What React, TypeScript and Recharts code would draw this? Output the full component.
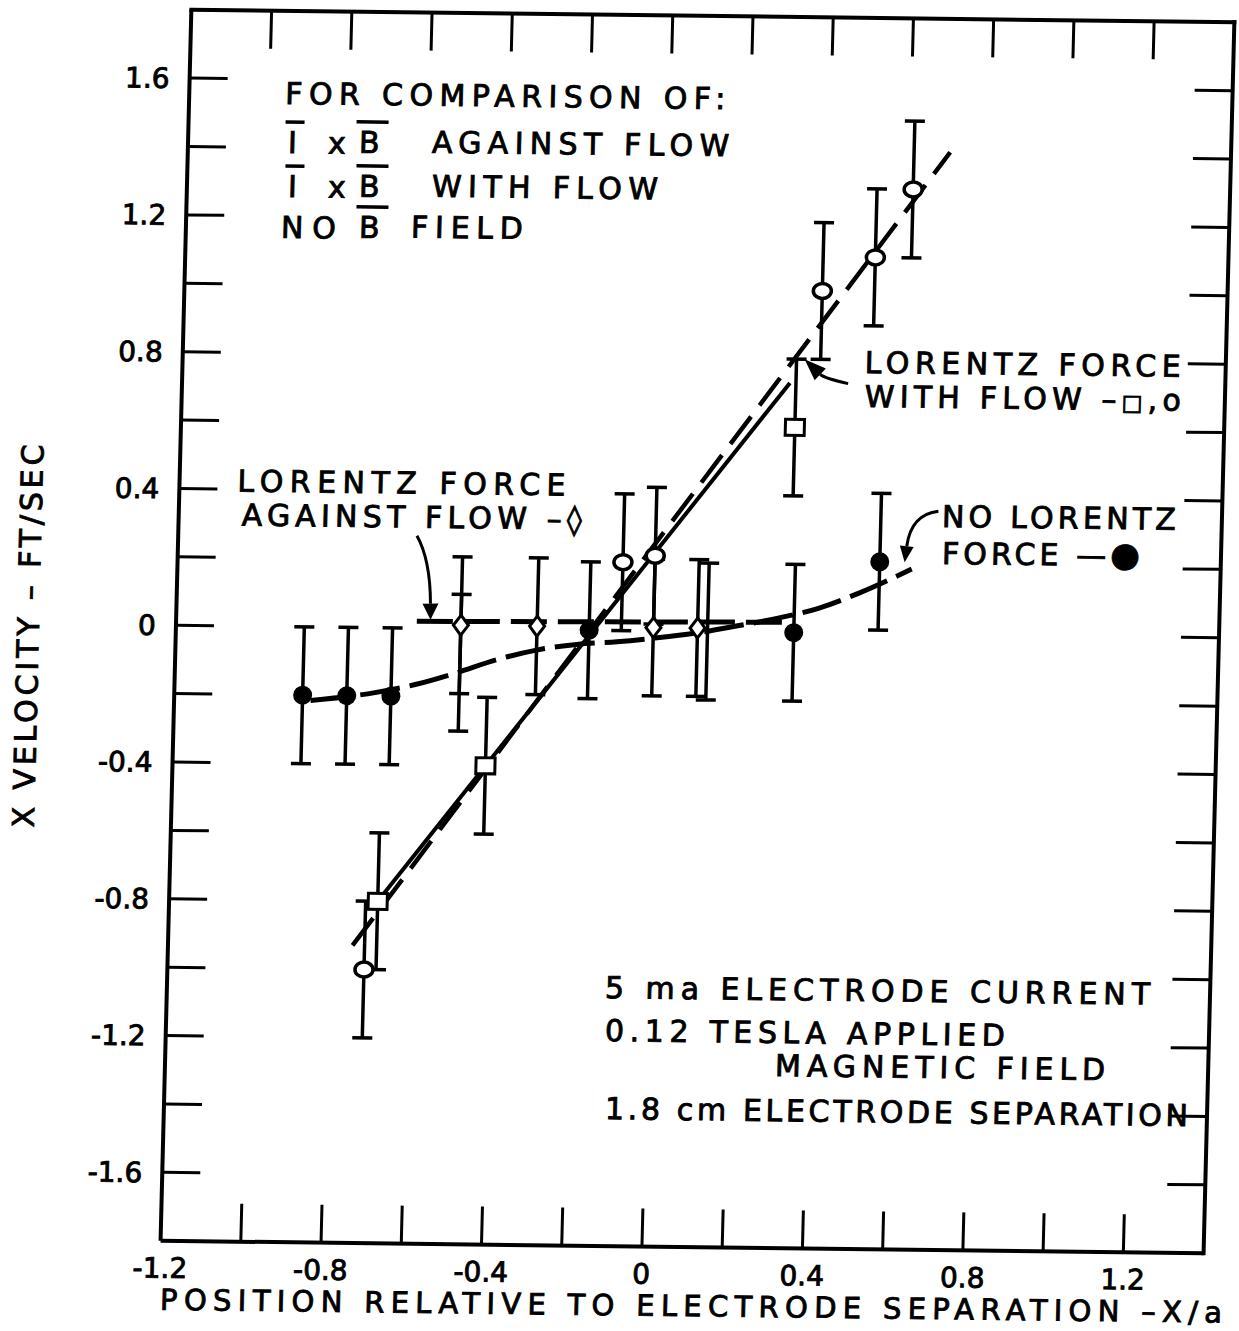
import React from "react";
import {
  ComposedChart,
  Line,
  Scatter,
  ErrorBar,
  XAxis,
  YAxis,
  Customized,
} from "recharts";

// svg size and plot frame (px)
const W = 1260;
const H = 1331;
const LEFT = 176;
const RIGHT = 1219;
const TOP = 16;
const BOTTOM = 1247;
const TICK = 38;

const X_DOMAIN: [number, number] = [-1.2, 1.4];
const Y_DOMAIN: [number, number] = [-1.8, 1.8];

const xTicks = [-1.2, -1.0, -0.8, -0.6, -0.4, -0.2, 0, 0.2, 0.4, 0.6, 0.8, 1.0, 1.2];
const xTickLabels = ["-1.2", "-0.8", "-0.4", "0", "0.4", "0.8", "1.2"];
const yTicks = [
  -1.6, -1.4, -1.2, -1.0, -0.8, -0.6, -0.4, -0.2, 0, 0.2, 0.4, 0.6, 0.8, 1.0, 1.2, 1.4, 1.6,
];
const yTickLabels = ["-1.6", "-1.2", "-0.8", "-0.4", "0", "0.4", "0.8", "1.2", "1.6"];

// no B field (filled circles)
const noFieldX = [-0.88, -0.77, -0.66, -0.17, 0.34, 0.55];
const noFieldY = [-0.2, -0.2, -0.2, 0.0, 0.0, 0.21];
// I x B with flow (open circles and squares)
const withFlowCircleX = [-0.71, -0.09, -0.01, 0.39, 0.52, 0.61];
const withFlowCircleY = [-1.0, 0.2, 0.22, 1.0, 1.1, 1.3];
const withFlowSquareX = [-0.68, -0.42, 0.33];
const withFlowSquareY = [-0.8, -0.4, 0.6];
// I x B against flow (diamonds)
const againstX = [-0.49, -0.3, -0.01, 0.1];
const againstY = [0.01, 0.01, 0.01, 0.01];
// error bars whose symbols sit under other marks
const hiddenX = [-0.49, 0.125];
const hiddenY = [-0.1, 0.0];
const ERR = 0.2;

// faired curves
const circleFitX = [-0.74, 0.7];
const circleFitY = [-0.93, 1.41];
const squareFitX = [-0.68, 0.315];
const squareFitY = [-0.8, 0.73];
const againstFitX = [-0.6, 0.31];
const againstFitY = [0.02, 0.03];
const noFieldFitX = [-0.86, -0.7, -0.6, -0.5, -0.4, -0.3, -0.2, -0.1, 0, 0.1, 0.2, 0.3, 0.4, 0.5, 0.63];
const noFieldFitY = [
  -0.215, -0.19, -0.165, -0.13, -0.09, -0.06, -0.042, -0.033, -0.02, -0.004, 0.018, 0.042, 0.072,
  0.118, 0.19,
];

const points = (xs: number[], ys: number[]) =>
  xs.map((x, i) => ({ x, y: ys[i], err: ERR }));

const sx = (x: number) =>
  LEFT + ((x - X_DOMAIN[0]) / (X_DOMAIN[1] - X_DOMAIN[0])) * (RIGHT - LEFT);
const sy = (y: number) =>
  TOP + ((Y_DOMAIN[1] - y) / (Y_DOMAIN[1] - Y_DOMAIN[0])) * (BOTTOM - TOP);

const fmt = (v: number) => (Math.abs(v) < 1e-9 ? "0" : v.toFixed(1));

const FONT = '"DejaVu Sans", sans-serif';
const letter = {
  fontFamily: FONT,
  fontSize: 30,
  fill: "#000",
  stroke: "#000",
  strokeWidth: 0.9,
};

const BottomTick = ({ x, y, payload }: any) => {
  const label = fmt(payload.value);
  return (
    <g>
      {payload.value > X_DOMAIN[0] + 1e-9 && (
        <line x1={x} y1={y} x2={x} y2={y - TICK} stroke="#000" strokeWidth={3} />
      )}
      {xTickLabels.includes(label) && (
        <text x={x} y={y + 37} textAnchor="middle" style={{ ...letter, fontSize: 28 }}>
          {label}
        </text>
      )}
    </g>
  );
};

const LeftTick = ({ x, y, payload }: any) => {
  const label = fmt(payload.value);
  return (
    <g>
      <line x1={x} y1={y} x2={x + TICK} y2={y} stroke="#000" strokeWidth={3} />
      {yTickLabels.includes(label) && (
        <text x={x - 20} y={y + 10} textAnchor="end" style={{ ...letter, fontSize: 28 }}>
          {label}
        </text>
      )}
    </g>
  );
};

// top and right edges of the frame with their inward ticks
const FrameEdges = () => (
  <g stroke="#000">
    <line x1={LEFT} y1={TOP} x2={RIGHT} y2={TOP} strokeWidth={4} strokeLinecap="square" />
    <line x1={RIGHT} y1={TOP} x2={RIGHT} y2={BOTTOM} strokeWidth={4} strokeLinecap="square" />
    {xTicks
      .filter((v) => v > X_DOMAIN[0] + 1e-9)
      .map((v) => (
        <line key={`t${v}`} x1={sx(v)} x2={sx(v)} y1={TOP} y2={TOP + TICK} strokeWidth={3} />
      ))}
    {yTicks.map((v) => (
      <line key={`r${v}`} x1={RIGHT - TICK} x2={RIGHT} y1={sy(v)} y2={sy(v)} strokeWidth={3} />
    ))}
  </g>
);

const FilledDot = ({ cx, cy }: any) => <circle cx={cx} cy={cy} r={9.5} fill="#000" />;
const OpenDot = ({ cx, cy }: any) => (
  <ellipse cx={cx} cy={cy} rx={9} ry={7.5} fill="#fff" stroke="#000" strokeWidth={3.5} />
);
const OpenSquare = ({ cx, cy }: any) => (
  <rect x={cx - 9.5} y={cy - 8} width={19} height={16} fill="#fff" stroke="#000" strokeWidth={3} />
);
const OpenDiamond = ({ cx, cy }: any) => (
  <path
    d={`M${cx},${cy - 10} L${cx + 7.5},${cy} L${cx},${cy + 10} L${cx - 7.5},${cy} Z`}
    fill="#fff"
    stroke="#000"
    strokeWidth={3}
  />
);
const NoMark = () => <g />;

// curved leader with a filled head, given in data units
const Arrow = ({ from, ctrl, tip, head, half }: any) => {
  const [x0, y0] = [sx(from[0]), sy(from[1])];
  const [cx, cy] = [sx(ctrl[0]), sy(ctrl[1])];
  const [tx, ty] = [sx(tip[0]), sy(tip[1])];
  const len = Math.hypot(tx - cx, ty - cy);
  const ux = (tx - cx) / len;
  const uy = (ty - cy) / len;
  const bx = tx - ux * head;
  const by = ty - uy * head;
  return (
    <g>
      <path d={`M${x0},${y0} Q${cx},${cy} ${bx},${by}`} fill="none" stroke="#000" strokeWidth={3} />
      <path
        d={`M${tx},${ty} L${bx - uy * half},${by + ux * half} L${bx + uy * half},${by - ux * half} Z`}
        fill="#000"
      />
    </g>
  );
};

const Note = ({ x, y, w, children, size = 30 }: any) => (
  <text x={x} y={y} textLength={w} lengthAdjust="spacing" style={{ ...letter, fontSize: size }}>
    {children}
  </text>
);

const Bar = ({ x1, x2, y }: any) => (
  <line x1={x1} x2={x2} y1={y} y2={y} stroke="#000" strokeWidth={3.5} />
);

const Annotations = () => (
  <g>
    <FrameEdges />

    {/* key */}
    <Note x={272} y={109} w={440}>FOR COMPARISON OF:</Note>
    <Note x={276} y={158}>I</Note>
    <Note x={316} y={158}>x</Note>
    <Note x={347} y={157}>B</Note>
    <Note x={420} y={156} w={297}>AGAINST FLOW</Note>
    <Bar x1={273} x2={292} y={127} />
    <Bar x1={344} x2={376} y={126} />
    <Note x={277} y={202}>I</Note>
    <Note x={317} y={202}>x</Note>
    <Note x={348} y={201}>B</Note>
    <Note x={421} y={200} w={226}>WITH FLOW</Note>
    <Bar x1={274} x2={293} y={171} />
    <Bar x1={345} x2={377} y={170} />
    <Note x={271} y={243} w={55}>NO</Note>
    <Note x={349} y={242}>B</Note>
    <Note x={401} y={241} w={112}>FIELD</Note>
    <Bar x1={346} x2={378} y={211} />

    {/* curve labels */}
    <Note x={858} y={371} w={316}>LORENTZ FORCE</Note>
    <Note x={859} y={405} w={316}>
      WITH FLOW –<tspan fontSize={22}>□</tspan>,o
    </Note>
    <Note x={234} y={497} w={328}>LORENTZ FORCE</Note>
    <Note x={239} y={531} w={340}>AGAINST FLOW –◊</Note>
    <Note x={939} y={524} w={234}>NO LORENTZ</Note>
    <Note x={940} y={561} w={198}>
      FORCE —<tspan fontSize={34}>●</tspan>
    </Note>

    <Arrow from={[-0.605, 0.27]} ctrl={[-0.57, 0.2]} tip={[-0.566, 0.025]} head={16} half={8} />
    <Arrow from={[0.46, 0.73]} ctrl={[0.4, 0.745]} tip={[0.35, 0.8]} head={22} half={8} />
    <Arrow from={[0.693, 0.36]} ctrl={[0.625, 0.35]} tip={[0.612, 0.21]} head={16} half={7} />

    {/* test conditions */}
    <Note x={614} y={999} w={545}>5 ma ELECTRODE  CURRENT</Note>
    <Note x={615} y={1042} w={400}>0.12 TESLA APPLIED</Note>
    <Note x={786} y={1075} w={330}>MAGNETIC FIELD</Note>
    <Note x={617} y={1120} w={583}>1.8 cm ELECTRODE SEPARATION</Note>

    {/* axis titles */}
    <text
      x={39}
      y={644}
      transform="rotate(-90 39 644)"
      textAnchor="middle"
      textLength={383}
      lengthAdjust="spacing"
      style={letter}
    >
      X VELOCITY – FT/SEC
    </text>
    <Note x={177} y={1316} w={1062} size={29}>
      POSITION RELATIVE TO ELECTRODE SEPARATION –X/a
    </Note>
  </g>
);

const lineProps = {
  dataKey: "y",
  stroke: "#000",
  dot: false,
  activeDot: false,
  isAnimationActive: false,
  legendType: "none" as const,
};

const errProps = {
  dataKey: "err",
  direction: "y" as const,
  width: 10,
  stroke: "#000",
  strokeWidth: 3.5,
};

export default function App() {
  return (
    <div
      style={{
        position: "absolute",
        left: 0,
        top: 0,
        width: 1239,
        height: 1331,
        overflow: "hidden",
        background: "#fff",
      }}
    >
      {/* the sheet sits slightly skewed */}
      <div style={{ transform: "matrix(1, 0.012, -0.025, 1, 0, 0)", transformOrigin: "698px 630px" }}>
        <ComposedChart width={W} height={H} margin={{ top: TOP, right: W - RIGHT, bottom: 0, left: 0 }}>
          <XAxis
            type="number"
            dataKey="x"
            domain={X_DOMAIN}
            ticks={xTicks}
            interval={0}
            height={H - BOTTOM}
            tickSize={0}
            tickMargin={0}
            tickLine={false}
            axisLine={{ stroke: "#000", strokeWidth: 4 }}
            tick={<BottomTick />}
            allowDataOverflow
          />
          <YAxis
            type="number"
            dataKey="y"
            domain={Y_DOMAIN}
            ticks={yTicks}
            interval={0}
            width={LEFT}
            tickSize={0}
            tickMargin={0}
            tickLine={false}
            axisLine={{ stroke: "#000", strokeWidth: 4 }}
            tick={<LeftTick />}
            allowDataOverflow
          />

          <Line
            {...lineProps}
            data={points(noFieldFitX, noFieldFitY)}
            type="monotone"
            strokeWidth={5}
            strokeDasharray="40 10"
          />
          <Line
            {...lineProps}
            data={points(againstFitX, againstFitY)}
            type="linear"
            strokeWidth={5}
            strokeDasharray="36 11"
          />
          <Line
            {...lineProps}
            data={points(circleFitX, circleFitY)}
            type="linear"
            strokeWidth={4.5}
            strokeDasharray="34 14"
          />
          <Line {...lineProps} data={points(squareFitX, squareFitY)} type="linear" strokeWidth={4} />

          <Scatter data={points(hiddenX, hiddenY)} shape={NoMark} isAnimationActive={false}>
            <ErrorBar {...errProps} />
          </Scatter>
          <Scatter data={points(noFieldX, noFieldY)} shape={FilledDot} isAnimationActive={false}>
            <ErrorBar {...errProps} />
          </Scatter>
          <Scatter data={points(againstX, againstY)} shape={OpenDiamond} isAnimationActive={false}>
            <ErrorBar {...errProps} />
          </Scatter>
          <Scatter
            data={points(withFlowSquareX, withFlowSquareY)}
            shape={OpenSquare}
            isAnimationActive={false}
          >
            <ErrorBar {...errProps} />
          </Scatter>
          <Scatter
            data={points(withFlowCircleX, withFlowCircleY)}
            shape={OpenDot}
            isAnimationActive={false}
          >
            <ErrorBar {...errProps} />
          </Scatter>

          <Customized component={Annotations} />
        </ComposedChart>
      </div>
    </div>
  );
}
